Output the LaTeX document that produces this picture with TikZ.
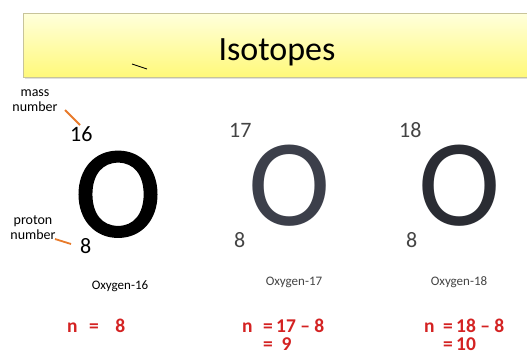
\documentclass[tikz,border=0pt]{standalone}
\usepackage{fontspec}
\setmainfont{Carlito}
\newfontfamily\heavyO[FakeBold=1.6]{Carlito}
\definecolor{banlo}{HTML}{FFF97A}
\definecolor{banhi}{HTML}{FFFFDC}
\definecolor{banedge}{HTML}{C8C49A}
\definecolor{accent}{HTML}{E87A2A}
\definecolor{redtxt}{HTML}{D42222}
\definecolor{ogray}{HTML}{3C3F4A}
\definecolor{ograyb}{HTML}{2A2C33}
\definecolor{numgray}{HTML}{444444}
\begin{document}
\begin{tikzpicture}[x=1pt,y=-1pt,
  small/.style={font=\fontsize{14}{15}\selectfont, align=center, inner sep=0pt},
  isonum/.style={font=\fontsize{22}{24}\selectfont, inner sep=0pt, anchor=base west},
  bigO/.style={font=\fontsize{124}{124}\selectfont, inner sep=0pt, anchor=base, text height=78pt, text depth=0pt},
  oxname/.style={font=\fontsize{13}{14}\selectfont, inner sep=0pt},
  eqn/.style={font=\fontsize{19.5}{21}\selectfont\bfseries, text=redtxt, inner sep=0pt, anchor=base west},
  pointer/.style={draw=accent, line width=1.8pt}]
\useasboundingbox (0,0) rectangle (527,356);
\fill[white] (0,0) rectangle (527,356);
% banner
\fill[black!12] (25,16) rectangle (529,79);
\shade[top color=banhi, bottom color=banlo, draw=banedge, line width=0.6pt] (23,13) rectangle (530,77);
\node[font=\fontsize{34}{36}\selectfont, inner sep=0pt, anchor=base] (title) at (277,60) {Isotopes};
\coordinate (tick1) at (132,64);
\coordinate (tick2) at (147,69);
\draw[line width=0.9pt] (tick1) -- (tick2);
% side labels
\node[small] (mass) at (35,101) {mass\\number};
\node[small] (proton) at (33,228) {proton\\number};
% oxygen 16
\node[isonum] (m16) at (70,141) {16};
\node[bigO, font=\fontsize{130}{130}\heavyO] (O16) at (118,236) {O};
\node[isonum] (z16) at (80,253) {8};
\coordinate (mp1) at (65,110);
\coordinate (mp2) at (80,125);
\draw[pointer] (mp1) -- (mp2);
\coordinate (pp1) at (55,239);
\coordinate (pp2) at (71,244);
\draw[pointer] (pp1) -- (pp2);
% oxygen 17
\node[isonum, text=numgray] (m17) at (229,137) {17};
\node[bigO, text=ogray] (O17) at (290,225) {O};
\node[isonum, text=numgray] (z17) at (234,247) {8};
% oxygen 18
\node[isonum, text=numgray] (m18) at (399,137) {18};
\node[bigO, text=ograyb] (O18) at (460,225) {O};
\node[isonum, text=numgray] (z18) at (406,247) {8};
% names
\node[oxname] (n16) at (120,286) {Oxygen-16};
\node[oxname, text=numgray] (n17) at (294,282) {Oxygen-17};
\node[oxname, text=numgray] (n18) at (459,282) {Oxygen-18};
% equations
\node[eqn] (e16n) at (67,332) {n};
\node[eqn] (e16) at (89,332) {=\hspace{0.85em}8};
\node[eqn] (e17n) at (242,332) {n};
\node[eqn] (e17) at (263,332) {=\,17 – 8};
\node[eqn] (e17b) at (263,350.5) {=\hspace{0.45em}9};
\node[eqn] (e18n) at (424,332) {n};
\node[eqn] (e18) at (443,332) {=\,18 – 8};
\node[eqn] (e18b) at (443,350.5) {=\,10};
\end{tikzpicture}
\end{document}
